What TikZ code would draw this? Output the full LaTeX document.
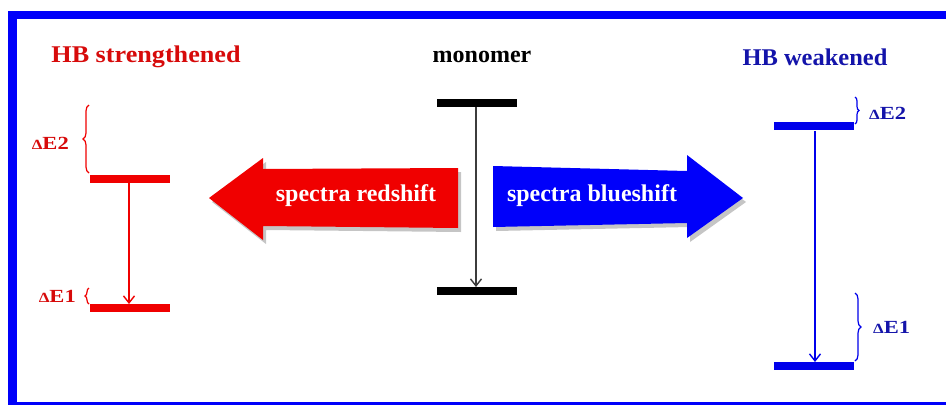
\documentclass[tikz,border=0pt]{standalone}
\usepackage{fontspec}
\setmainfont{Liberation Serif}
\usetikzlibrary{arrows.meta,decorations.pathreplacing,shadows}
\definecolor{fblue}{RGB}{0,0,250}
\definecolor{lred}{RGB}{240,0,0}
\definecolor{tred}{RGB}{215,10,10}
\definecolor{tblue}{RGB}{20,20,170}
\definecolor{lblue}{RGB}{0,0,235}
\definecolor{mgray}{RGB}{60,60,60}
\newcommand{\dlab}[1]{\scalebox{1.22}[1]{{\fontsize{14}{14}\selectfont Δ}E#1}}
\tikzset{
  lvl/.style={line width=8.5pt},
  trans/.style={-{Straight Barb[length=7pt,width=11pt]},line width=1.4pt},
  brc/.style={decorate,decoration={brace,amplitude=5pt},line width=1.2pt},
  title/.style={font=\bfseries\fontsize{24}{26}\selectfont,inner sep=0pt},
  elab/.style={font=\bfseries\fontsize{18.5}{20}\selectfont,inner sep=0pt},
  atext/.style={font=\bfseries\fontsize{24}{26}\selectfont,text=white,inner sep=0pt},
  bigarrow/.style={draw=none,drop shadow={shadow xshift=3pt,shadow yshift=-4pt,opacity=0.45,fill=gray}}
}
\begin{document}
\begin{tikzpicture}[x=1pt,y=-1pt]
\useasboundingbox (0,0) rectangle (946,405);
% frame
\fill[fblue] (8,11) rectangle (946,405);
\fill[white] (17,19) rectangle (946,402);
% titles
\node[title,text=tred] (t1) at (146,57) {\scalebox{1.09}[1]{HB strengthened}};
\node[title,text=black] (t2) at (482,57) {\scalebox{1.0}[1]{monomer}};
\node[title,text=tblue] (t3) at (815,57) {\scalebox{1.02}[1]{HB weakened}};
% big arrows
\fill[lred,bigarrow] (209,198) -- (263,158) -- (263,169) -- (458,168) -- (458,228) -- (263,226) -- (263,240) -- cycle;
\node[atext] (rs) at (356,196) {spectra redshift};
\fill[fblue,bigarrow] (743,198) -- (687,155) -- (687,171) -- (493,166) -- (493,227) -- (687,223) -- (687,238) -- cycle;
\node[atext] (bs) at (592,196) {spectra blueshift};
% left levels
\coordinate (lu1) at (90,179); \coordinate (lu2) at (170,179);
\coordinate (ll1) at (90,308); \coordinate (ll2) at (170,308);
\draw[lvl,lred] (lu1) -- (lu2);
\draw[lvl,lred] (ll1) -- (ll2);
\coordinate (la) at (129,183); \coordinate (lb) at (129,304);
\draw[trans,lred] (la) -- (lb);
\coordinate (lbr1) at (89,173); \coordinate (lbr2) at (89,105);
\draw[brc,lred,decoration={brace,amplitude=6pt}] (lbr1) -- (lbr2);
\coordinate (lbr3) at (89,304); \coordinate (lbr4) at (89,288);
\draw[brc,lred,decoration={brace,amplitude=4pt}] (lbr3) -- (lbr4);
\node[elab,text=tred,anchor=east] (le2) at (69,143) {\dlab{2}};
\node[elab,text=tred,anchor=east] (le1) at (76,296) {\dlab{1}};
% monomer levels
\coordinate (mu1) at (437,103); \coordinate (mu2) at (517,103);
\coordinate (ml1) at (437,291); \coordinate (ml2) at (517,291);
\draw[lvl,black] (mu1) -- (mu2);
\draw[lvl,black] (ml1) -- (ml2);
\coordinate (ma) at (476,107); \coordinate (mb) at (476,287);
\draw[trans,mgray] (ma) -- (mb);
% right levels
\coordinate (ru1) at (774,126); \coordinate (ru2) at (854,126);
\coordinate (rl1) at (774,366); \coordinate (rl2) at (854,366);
\draw[lvl,lblue] (ru1) -- (ru2);
\draw[lvl,lblue] (rl1) -- (rl2);
\coordinate (ra) at (815,131); \coordinate (rb) at (815,362);
\draw[trans,lblue] (ra) -- (rb);
\coordinate (rbr1) at (855,97); \coordinate (rbr2) at (855,124);
\draw[brc,lblue,decoration={brace,amplitude=4pt}] (rbr1) -- (rbr2);
\coordinate (rbr3) at (855,293); \coordinate (rbr4) at (855,361);
\draw[brc,lblue,decoration={brace,amplitude=6pt}] (rbr3) -- (rbr4);
\node[elab,text=tblue,anchor=west] (re2) at (869,113) {\dlab{2}};
\node[elab,text=tblue,anchor=west] (re1) at (873,327) {\dlab{1}};
\end{tikzpicture}
\end{document}
